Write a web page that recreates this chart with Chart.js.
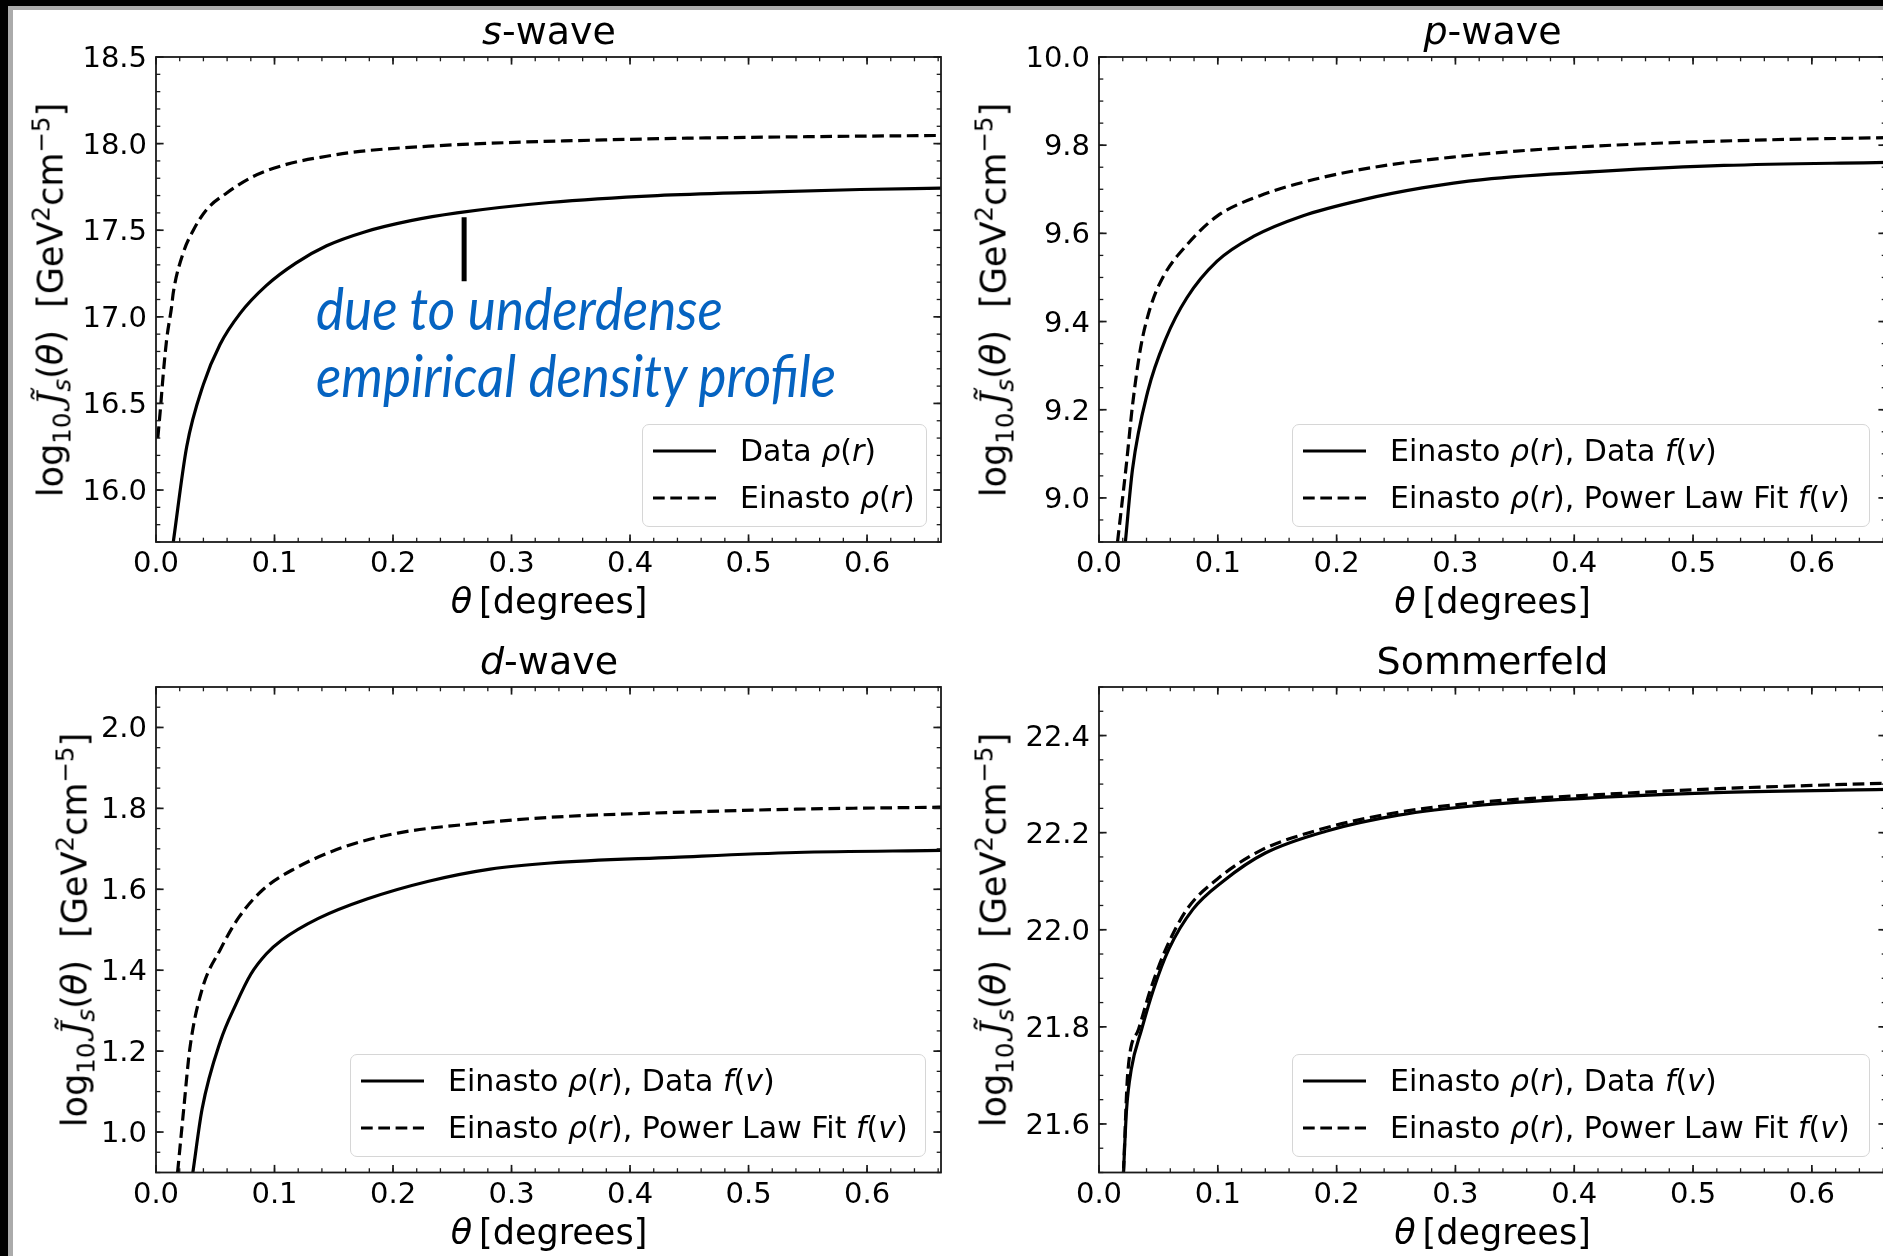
<!DOCTYPE html>
<html>
<head>
<meta charset="utf-8">
<title>J-factor panels</title>
<script src="https://cdn.jsdelivr.net/npm/chart.js@4.4.1/dist/chart.umd.min.js"></script>
<style>
  html, body { margin:0; padding:0; background:#fff; }
  body { width:1883px; height:1256px; overflow:hidden; position:relative; font-family:'DejaVu Sans', sans-serif; color:#000; }
  canvas { position:absolute; }
  .frame { position:absolute; }
  .title, .xl { position:absolute; white-space:nowrap; line-height:1; transform:translateX(-50%); }
  .title { font-size:38px; }
  .xl { font-size:35px; }
  .yl { position:absolute; white-space:nowrap; line-height:1; font-size:35px; transform:translate(-50%,-50%) rotate(-90deg); }
  sub, sup { font-size:70%; line-height:0; }
  .jt { font-family:'DejaVu Serif', serif; font-style:italic; }
  .lg { position:absolute; box-sizing:border-box; border:1.8px solid #d6d6d6; border-radius:7px; background:rgba(255,255,255,0.8); }
  .lgtxt { position:absolute; white-space:nowrap; font-size:30px; line-height:30px; }
  .note { position:absolute; white-space:nowrap; font-family:Lato, 'Open Sans', sans-serif; font-style:italic; color:#0563c1; font-size:58px; line-height:1; transform-origin:0 0; }
</style>
</head>
<body>
<div class="frame" style="left:0;top:0;width:1883px;height:6px;background:#000"></div>
<div class="frame" style="left:0;top:0;width:8px;height:1256px;background:#000"></div>
<div class="frame" style="left:8px;top:6px;width:1875px;height:4px;background:#ababab"></div>
<div class="frame" style="left:8px;top:6px;width:5px;height:1250px;background:#ababab"></div>

<canvas id="cS" width="960" height="628" style="left:0;top:0"></canvas>
<canvas id="cP" width="960" height="628" style="left:940px;top:0"></canvas>
<canvas id="cD" width="960" height="626" style="left:0;top:630px"></canvas>
<canvas id="cSom" width="960" height="626" style="left:940px;top:630px"></canvas>

<script>
// ---------------- data ----------------
const xTickValues = [0.0, 0.1, 0.2, 0.3, 0.4, 0.5, 0.6];
const xTickLabels = ['0.0', '0.1', '0.2', '0.3', '0.4', '0.5', '0.6'];
const thetaMax = 0.6624;

// s-wave
const sYTickValues = [16.0, 16.5, 17.0, 17.5, 18.0, 18.5];
const sYTickLabels = ['16.0', '16.5', '17.0', '17.5', '18.0', '18.5'];
const sDataTheta = [0.0146, 0.0259, 0.040, 0.054, 0.071, 0.093, 0.118, 0.144, 0.176, 0.215, 0.254, 0.332, 0.423, 0.513, 0.594, 0.6624];
const sDataValue = [15.70, 16.25, 16.61, 16.84, 17.02, 17.18, 17.31, 17.41, 17.49, 17.555, 17.60, 17.66, 17.70, 17.72, 17.735, 17.743];
const sEinTheta = [0.0015, 0.0035, 0.0062, 0.009, 0.0132, 0.0146, 0.023, 0.0315, 0.0428, 0.0597, 0.082, 0.110, 0.144, 0.172, 0.23, 0.297, 0.37, 0.437, 0.55, 0.6624];
const sEinValue = [16.30, 16.45, 16.676, 16.87, 17.06, 17.14, 17.37, 17.50, 17.62, 17.715, 17.81, 17.88, 17.927, 17.955, 17.985, 18.006, 18.02, 18.03, 18.04, 18.047];
const sMarkTheta = [0.26, 0.26];
const sMarkValue = [17.575, 17.205];
const sLegend = ['Data <i>ρ</i>(<i>r</i>)', 'Einasto <i>ρ</i>(<i>r</i>)'];
const noteLines = ['due to underdense', 'empirical density profile'];

// p-wave
const pYTickValues = [9.0, 9.2, 9.4, 9.6, 9.8, 10.0];
const pYTickLabels = ['9.0', '9.2', '9.4', '9.6', '9.8', '10.0'];
const pDataTheta = [0.0222, 0.0282, 0.041, 0.0562, 0.074, 0.0994, 0.130, 0.1706, 0.2215, 0.272, 0.323, 0.425, 0.526, 0.6627];
const pDataValue = [8.90, 9.065, 9.241, 9.361, 9.454, 9.537, 9.593, 9.639, 9.676, 9.703, 9.722, 9.741, 9.754, 9.761];
const pFitTheta = [0.0156, 0.0232, 0.0282, 0.035, 0.043, 0.0537, 0.074, 0.0994, 0.135, 0.1807, 0.2316, 0.2976, 0.374, 0.4756, 0.577, 0.6627];
const pFitValue = [8.90, 9.08, 9.21, 9.34, 9.43, 9.50, 9.574, 9.639, 9.685, 9.722, 9.75, 9.773, 9.791, 9.805, 9.813, 9.817];

// d-wave
const dYTickValues = [1.0, 1.2, 1.4, 1.6, 1.8, 2.0];
const dYTickLabels = ['1.0', '1.2', '1.4', '1.6', '1.8', '2.0'];
const dDataTheta = [0.0311, 0.0389, 0.0544, 0.0673, 0.080, 0.093, 0.106, 0.137, 0.178, 0.230, 0.282, 0.333, 0.437, 0.540, 0.6626];
const dDataValue = [0.90, 1.057, 1.225, 1.315, 1.39, 1.44, 1.474, 1.528, 1.576, 1.620, 1.650, 1.665, 1.679, 1.691, 1.696];
const dFitTheta = [0.0182, 0.0234, 0.0285, 0.0389, 0.0544, 0.070, 0.0906, 0.1164, 0.158, 0.204, 0.271, 0.333, 0.437, 0.540, 0.6626];
const dFitValue = [0.90, 1.057, 1.205, 1.353, 1.452, 1.531, 1.60, 1.650, 1.704, 1.739, 1.763, 1.778, 1.790, 1.798, 1.803];

// Sommerfeld
const somYTickValues = [21.6, 21.8, 22.0, 22.2, 22.4];
const somYTickLabels = ['21.6', '21.8', '22.0', '22.2', '22.4'];
const somDataTheta = [0.0206, 0.0232, 0.0272, 0.0359, 0.046, 0.0588, 0.079, 0.1045, 0.140, 0.191, 0.252, 0.323, 0.425, 0.526, 0.6627];
const somDataValue = [21.50, 21.63, 21.713, 21.795, 21.878, 21.96, 22.042, 22.10, 22.158, 22.203, 22.236, 22.257, 22.273, 22.283, 22.289];
const somFitTheta = [0.0206, 0.0242, 0.0333, 0.0435, 0.0562, 0.074, 0.0994, 0.135, 0.181, 0.247, 0.323, 0.425, 0.526, 0.6627];
const somFitValue = [21.50, 21.705, 21.795, 21.878, 21.96, 22.042, 22.104, 22.162, 22.203, 22.24, 22.263, 22.279, 22.291, 22.302];

const fitLegend = ['Einasto <i>ρ</i>(<i>r</i>), Data <i>f</i>(<i>v</i>)', 'Einasto <i>ρ</i>(<i>r</i>), Power Law Fit <i>f</i>(<i>v</i>)'];
const titles = ['<i>s</i>-wave', '<i>p</i>-wave', '<i>d</i>-wave', 'Sommerfeld'];
const xLabel = '<i>θ</i>&thinsp;[degrees]';
const yLabel = 'log<sub>10</sub>&thinsp;<span class="jt">J&#x0303;</span><sub><i>s</i></sub>(<i>θ</i>)&nbsp;&nbsp;[GeV<sup>2</sup>cm<sup>−5</sup>]';

// ---------------- drawing helpers ----------------
const DASH = [11.7, 5.6];
const LW = 3.2;

function pts(xs, ys) { return xs.map((x, i) => ({ x: x, y: ys[i] })); }
function solid(xs, ys) {
  return { data: pts(xs, ys), borderColor: '#000', borderWidth: LW, pointRadius: 0,
           cubicInterpolationMode: 'monotone', fill: false, clip: 0, borderCapStyle: 'butt' };
}
function dashed(xs, ys) {
  const d = solid(xs, ys); d.borderDash = DASH; return d;
}

// inward ticks on all four sides + box (matplotlib look)
const mplAxes = {
  id: 'mplAxes',
  afterDatasetsDraw(chart, args, opts) {
    const { ctx, chartArea: a, scales: { x, y } } = chart;
    ctx.save();
    ctx.strokeStyle = '#1a1a1a';
    const seg = (x1, y1, x2, y2, w) => { ctx.lineWidth = w; ctx.beginPath(); ctx.moveTo(x1, y1); ctx.lineTo(x2, y2); ctx.stroke(); };
    const xt = (v, len, w) => { const p = x.getPixelForValue(v); seg(p, a.bottom, p, a.bottom - len, w); seg(p, a.top, p, a.top + len, w); };
    const yt = (v, len, w) => { const p = y.getPixelForValue(v); seg(a.left, p, a.left + len, p, w); seg(a.right, p, a.right - len, p, w); };
    for (let k = 0; k * opts.xMinor <= x.max + 1e-9; k++) xt(k * opts.xMinor, 4.3, 1.3);
    for (let k = Math.ceil(y.min / opts.yMinor - 1e-6); k * opts.yMinor <= y.max + 1e-9; k++) yt(k * opts.yMinor, 4.3, 1.3);
    xTickValues.forEach(v => xt(v, 7.6, 1.7));
    opts.yMajor.forEach(v => yt(v, 7.6, 1.7));
    ctx.lineWidth = 1.8;
    ctx.strokeRect(a.left, a.top, a.right - a.left, a.bottom - a.top);
    ctx.restore();
  }
};

function panel(id, o) {
  return new Chart(document.getElementById(id), {
    type: 'line',
    data: { datasets: o.datasets },
    options: {
      responsive: false, animation: false, devicePixelRatio: 1,
      events: [],
      layout: { autoPadding: false, padding: { left: 0, top: 57, right: o.padRight, bottom: o.padBottom } },
      plugins: { legend: { display: false }, tooltip: { enabled: false },
                 mplAxes: { xMinor: 0.02, yMinor: o.yMinor, yMajor: o.yTicks } },
      scales: {
        x: {
          type: 'linear', min: 0, max: thetaMax,
          afterBuildTicks: s => { s.ticks = xTickValues.map(v => ({ value: v })); },
          afterFit: s => { s.height = 60; },
          grid: { display: false, drawTicks: false }, border: { display: false },
          ticks: { color: '#000', font: { family: 'DejaVu Sans', size: 29, lineHeight: 1.2 }, padding: 5.5,
                   maxRotation: 0, autoSkip: false, callback: (v, i) => xTickLabels[i] }
        },
        y: {
          type: 'linear', min: o.yMin, max: o.yMax,
          afterBuildTicks: s => { s.ticks = o.yTicks.map(v => ({ value: v })); },
          afterFit: s => { s.width = o.yWidth; },
          grid: { display: false, drawTicks: false }, border: { display: false },
          ticks: { color: '#000', font: { family: 'DejaVu Sans', size: 29, lineHeight: 1.2 }, padding: 9, labelOffset: 2.5,
                   autoSkip: false, callback: (v, i) => o.yLabels[i] }
        }
      }
    },
    plugins: [mplAxes]
  });
}

const sMark = { data: pts(sMarkTheta, sMarkValue), borderColor: '#000', borderWidth: 5, pointRadius: 0, borderCapStyle: 'butt', clip: 0 };

panel('cS', { datasets: [solid(sDataTheta, sDataValue), dashed(sEinTheta, sEinValue), sMark],
  yMin: 15.7, yMax: 18.5, yTicks: sYTickValues, yLabels: sYTickLabels, yMinor: 0.1, yWidth: 156, padRight: 19, padBottom: 26 });
panel('cP', { datasets: [solid(pDataTheta, pDataValue), dashed(pFitTheta, pFitValue)],
  yMin: 8.9, yMax: 10.0, yTicks: pYTickValues, yLabels: pYTickLabels, yMinor: 0.05, yWidth: 159, padRight: 14, padBottom: 26 });
panel('cD', { datasets: [solid(dDataTheta, dDataValue), dashed(dFitTheta, dFitValue)],
  yMin: 0.9, yMax: 2.1, yTicks: dYTickValues, yLabels: dYTickLabels, yMinor: 0.05, yWidth: 156, padRight: 19, padBottom: 23.5 });
panel('cSom', { datasets: [solid(somDataTheta, somDataValue), dashed(somFitTheta, somFitValue)],
  yMin: 21.5, yMax: 22.5, yTicks: somYTickValues, yLabels: somYTickLabels, yMinor: 0.05, yWidth: 159, padRight: 14, padBottom: 23.5 });

// ---------------- text: titles, axis labels, legends, note ----------------
function addDiv(cls, html, style) {
  const d = document.createElement('div');
  d.className = cls; d.innerHTML = html;
  Object.assign(d.style, style);
  document.body.appendChild(d);
  return d;
}
const panelCx = [549, 1492.5, 549, 1492.5];
const titleTop = [12.4, 642];
titles.forEach((t, i) => addDiv('title', t, { left: panelCx[i] + 'px', top: titleTop[i < 2 ? 0 : 1] + 'px' }));
const xlTop = [583.5, 1214.5];
[0, 1, 2, 3].forEach(i => addDiv('xl', xLabel, { left: panelCx[i] + 'px', top: xlTop[i < 2 ? 0 : 1] + 'px' }));
const ylPos = [[51, 300], [993.5, 300], [75, 930], [993.5, 930]];
ylPos.forEach(p => addDiv('yl', yLabel, { left: p[0] + 'px', top: p[1] + 'px' }));

function addLegend(left, top, width, height, labels) {
  const box = addDiv('lg', '', { left: left + 'px', top: top + 'px', width: width + 'px', height: height + 'px' });
  const rows = [26, 73];
  labels.forEach((lab, i) => {
    const cy = rows[i];
    box.insertAdjacentHTML('beforeend',
      `<svg width="66" height="10" style="position:absolute;left:10px;top:${cy - 5}px">` +
      `<line x1="0" y1="5" x2="63" y2="5" stroke="#000" stroke-width="${LW}" ${i === 1 ? 'stroke-dasharray="' + DASH.join(' ') + '"' : ''}/></svg>` +
      `<div class="lgtxt" style="left:97px;top:${cy - 15}px">${lab}</div>`);
  });
}
addLegend(642, 424, 285, 103, sLegend);
addLegend(1292, 424, 578, 103, fitLegend);
addLegend(350, 1054, 576, 103, fitLegend);
addLegend(1292, 1054, 578, 103, fitLegend);

const noteTop = [279, 346];
const noteWidth = [407, 520];
noteLines.forEach((t, i) => {
  const d = addDiv('note', `<span>${t}</span>`, { left: '316px', top: noteTop[i] + 'px' });
  const w = d.firstChild.getBoundingClientRect().width;
  d.style.transform = `scaleX(${noteWidth[i] / w})`;
});
</script>
</body>
</html>
